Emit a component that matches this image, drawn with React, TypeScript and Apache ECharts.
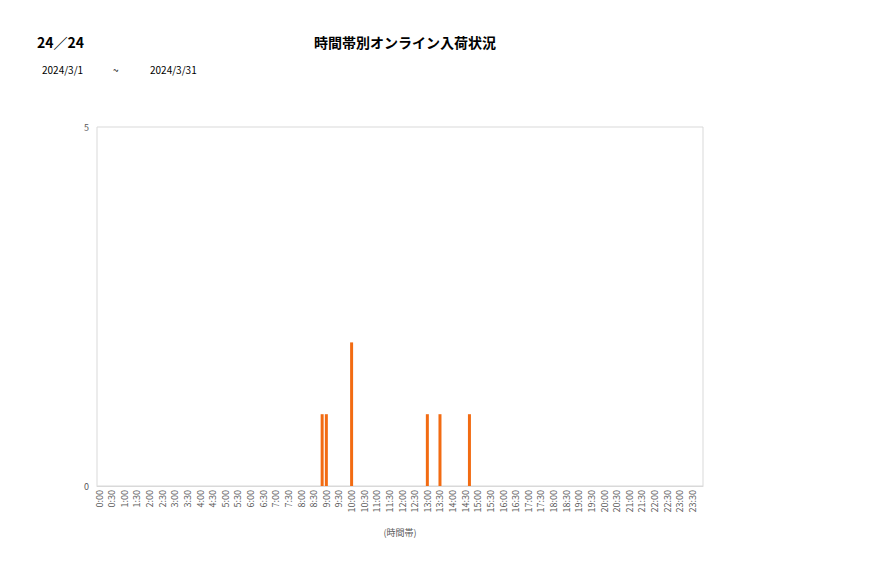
import { useEffect, useRef } from "react";
import * as echarts from "echarts";

// time slots every 10 minutes; a label is shown on every third slot
const hours = Array.from({ length: 24 }, (_, h) => h);
const minutes = ["00", "10", "20", "30", "40", "50"];
const slots = hours.flatMap(h => minutes.map(m => `${h}:${m}`));

// arrivals counted per slot (only non-empty slots listed)
const arrivalSlots = ["8:50", "9:00", "10:00", "13:00", "13:30", "14:40"];
const arrivalCounts = [1, 1, 2, 1, 1, 1];

const yTicks = [0, 5];

const FONT = "'Noto Sans CJK JP', 'Noto Sans', sans-serif";

export default function App() {
  const ref = useRef<HTMLDivElement>(null);

  useEffect(() => {
    if (!ref.current) return;
    const chart = echarts.init(ref.current, null, { renderer: "svg" });

    const values = slots.map(s => {
      const i = arrivalSlots.indexOf(s);
      return i >= 0 ? arrivalCounts[i] : 0;
    });

    chart.setOption({
      animation: false,
      backgroundColor: "#ffffff",
      textStyle: { fontFamily: FONT },
      title: [
        {
          text: "24／24",
          left: 37,
          top: 35,
          padding: 0,
          textStyle: { fontSize: 14, fontWeight: "bold", color: "#000", fontFamily: FONT },
        },
        {
          text: "時間帯別オンライン入荷状況",
          left: 405,
          top: 35,
          padding: 0,
          textAlign: "center",
          textStyle: { fontSize: 14, fontWeight: "bold", color: "#000", fontFamily: FONT },
        },
      ],
      graphic: [
        { type: "text", left: 42, top: 64, style: { text: "2024/3/1", fontSize: 10, fill: "#000", fontFamily: FONT } },
        { type: "text", left: 113, top: 64, style: { text: "~", fontSize: 10, fill: "#000", fontFamily: FONT } },
        { type: "text", left: 150, top: 64, style: { text: "2024/3/31", fontSize: 10, fill: "#000", fontFamily: FONT } },
      ],
      grid: {
        left: 97,
        right: 174,
        top: 127,
        bottom: 92,
        show: true,
        borderColor: "#d9d9d9",
        borderWidth: 1,
      },
      xAxis: {
        type: "category",
        data: slots,
        name: "(時間帯)",
        nameLocation: "middle",
        nameGap: 42,
        nameTextStyle: { color: "#595959", fontSize: 9, fontFamily: FONT },
        axisLine: { lineStyle: { color: "#d9d9d9" } },
        axisTick: { show: false },
        axisLabel: {
          interval: 2,
          rotate: 90,
          color: "#595959",
          fontSize: 9,
          margin: 4,
          fontFamily: FONT,
        },
        splitLine: { show: false },
      },
      yAxis: {
        type: "value",
        min: yTicks[0],
        max: yTicks[1],
        interval: yTicks[1] - yTicks[0],
        axisLine: { show: false },
        axisTick: { show: false },
        axisLabel: { color: "#595959", fontSize: 9, margin: 8, fontFamily: FONT },
        splitLine: { show: false },
      },
      series: [
        {
          type: "bar",
          data: values,
          barWidth: 3,
          itemStyle: { color: "#f26b12" },
        },
      ],
    });

    return () => chart.dispose();
  }, []);

  return (
    <div
      ref={ref}
      style={{ position: "fixed", left: 0, top: 0, width: 877, height: 578 }}
    />
  );
}
